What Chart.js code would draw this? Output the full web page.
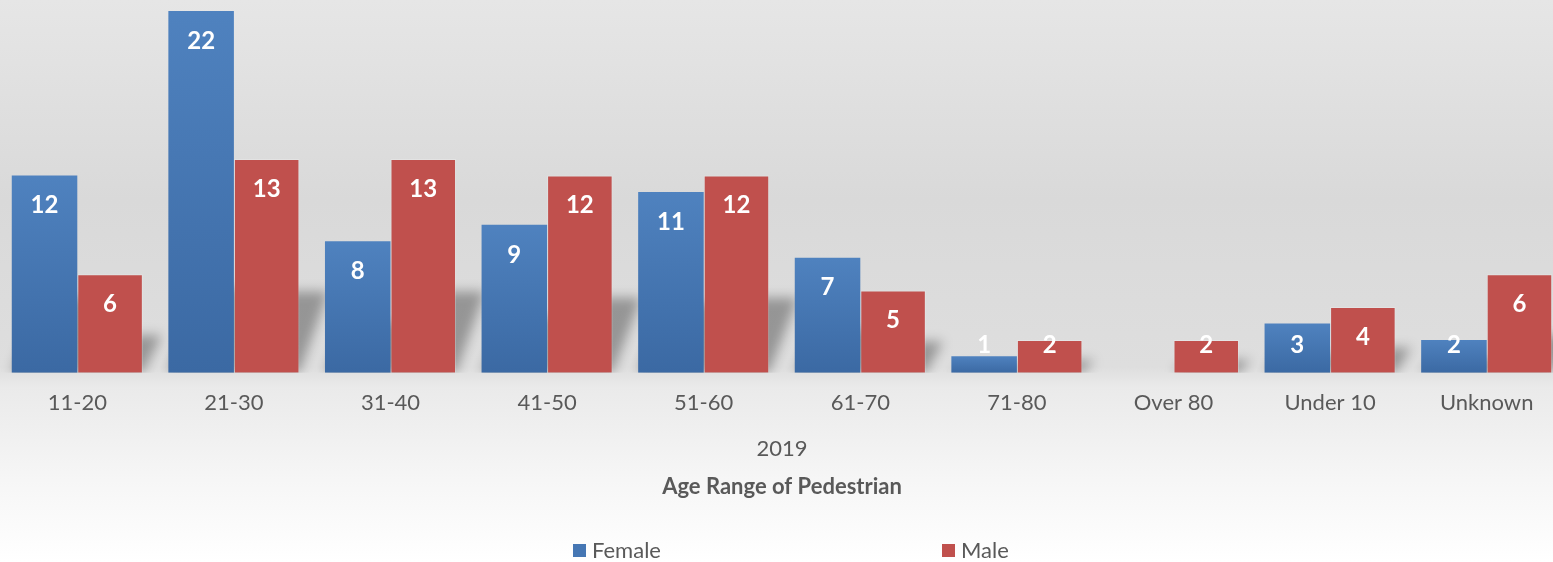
<!DOCTYPE html>
<html>
<head>
<meta charset="utf-8">
<script src="https://cdn.jsdelivr.net/npm/chart.js@4.4.0/dist/chart.umd.min.js"></script>
<style>
  html, body { margin: 0; padding: 0; }
  #frame {
    position: relative; width: 1553px; height: 562px; overflow: hidden;
    background: linear-gradient(to bottom, #e6e6e6 0px, #d9d9d9 200px, #dedede 367px, #eaeaea 387px, #f6f6f6 480px, #ffffff 562px);
  }
  #wrap { position: absolute; left: -1px; top: 0; width: 1566px; height: 562px; }
</style>
</head>
<body>
<div id="frame"><div id="wrap"><canvas id="myChart"></canvas></div></div>
<script>
const categories = ['11-20', '21-30', '31-40', '41-50', '51-60', '61-70', '71-80', 'Over 80', 'Under 10', 'Unknown'];
const femaleValues = [12, 22, 8, 9, 11, 7, 1, null, 3, 2];
const maleValues = [6, 13, 13, 12, 12, 5, 2, 2, 4, 6];
const seriesNames = ['Female', 'Male'];
const axisTitle = '2019';
const chartTitle = 'Age Range of Pedestrian';

const FONT = 'Lato';
const GREY = '#595959';

// blue bars: light at the top, darker at the base, per bar
function blueFill(ctx) {
  const chart = ctx.chart;
  const y = chart.scales.y;
  if (!chart.chartArea || !y || ctx.raw == null) return '#4677b4';
  const top = y.getPixelForValue(ctx.raw);
  const bottom = y.getPixelForValue(0);
  const g = chart.ctx.createLinearGradient(0, top, 0, bottom);
  g.addColorStop(0, '#4f82bf');
  g.addColorStop(1, '#3b69a3');
  return g;
}

// soft leaning shadow behind each bar
const barShadows = {
  id: 'barShadows',
  beforeDatasetsDraw(chart) {
    const c = chart.ctx;
    const area = chart.chartArea;
    c.save();
    c.beginPath();
    c.rect(area.left - 50, 0, area.right - area.left + 100, area.bottom);
    c.clip();
    c.filter = 'blur(6px)';
    c.fillStyle = 'rgba(0,0,0,0.32)';
    chart.data.datasets.forEach((ds, i) => {
      chart.getDatasetMeta(i).data.forEach((bar, j) => {
        if (ds.data[j] == null) return;
        const h = bar.base - bar.y;
        const rise = Math.min(h * 0.38, 85);
        const lean = Math.min(h * 0.1, 20) + 9;
        const l = bar.x - bar.width / 2;
        const r = bar.x + bar.width / 2;
        c.beginPath();
        c.moveTo(l, bar.base);
        c.lineTo(r, bar.base);
        c.lineTo(r + lean, bar.base - rise);
        c.lineTo(l + lean, bar.base - rise);
        c.closePath();
        c.fill();
      });
    });
    c.restore();
  }
};

// white value labels at the inside end of each bar
const barLabels = {
  id: 'barLabels',
  afterDatasetsDraw(chart) {
    const c = chart.ctx;
    c.save();
    c.font = 'bold 24px ' + FONT;
    c.fillStyle = '#ffffff';
    c.textAlign = 'center';
    c.textBaseline = 'middle';
    chart.data.datasets.forEach((ds, i) => {
      chart.getDatasetMeta(i).data.forEach((bar, j) => {
        const v = ds.data[j];
        if (v == null) return;
        const yy = Math.min(bar.y + 30, bar.base - 28);
        c.fillText(String(v), bar.x, yy);
      });
    });
    c.restore();
  }
};

// legend spread wide like the original
const spreadLegend = {
  id: 'spreadLegend',
  afterDraw(chart) {
    const c = chart.ctx;
    const spots = [574, 943];
    c.save();
    c.font = '22px ' + FONT;
    c.textBaseline = 'middle';
    c.textAlign = 'left';
    chart.data.datasets.forEach((ds, i) => {
      const x = spots[i];
      c.fillStyle = i === 0 ? '#4677b4' : '#c0504d';
      c.fillRect(x, 544, 13, 13);
      c.fillStyle = GREY;
      c.fillText(ds.label, x + 19, 550.5);
    });
    c.restore();
  }
};

const data = {
  labels: categories,
  datasets: [
    {
      label: seriesNames[0],
      data: femaleValues,
      backgroundColor: blueFill,
      borderWidth: 0
    },
    {
      label: seriesNames[1],
      data: maleValues,
      backgroundColor: '#c0504d',
      borderColor: 'rgba(255,255,255,0.22)',
      borderWidth: 1,
      borderSkipped: 'bottom'
    }
  ]
};

const options = {
  responsive: true,
  maintainAspectRatio: false,
  animation: false,
  layout: { padding: { top: 11, bottom: 62, left: 0, right: 0 } },
  datasets: {
    bar: { categoryPercentage: 0.837, barPercentage: 1.0 }
  },
  scales: {
    x: {
      grid: { display: false, drawTicks: false },
      border: { display: false },
      ticks: { color: GREY, font: { family: FONT, size: 22 }, padding: 17 },
      title: {
        display: true,
        text: axisTitle,
        color: GREY,
        font: { family: FONT, size: 22 },
        padding: { top: 3, bottom: 0 }
      }
    },
    y: {
      display: false,
      min: 0,
      max: 22
    }
  },
  plugins: {
    legend: { display: false },
    tooltip: { enabled: false },
    title: {
      display: true,
      position: 'bottom',
      text: chartTitle,
      color: GREY,
      font: { family: FONT, size: 22, weight: 'bold' },
      padding: { top: 11, bottom: 0 }
    }
  }
};

const config = {
  type: 'bar',
  data,
  options,
  plugins: [barShadows, barLabels, spreadLegend]
};

new Chart(document.getElementById('myChart'), config);
</script>
</body>
</html>
